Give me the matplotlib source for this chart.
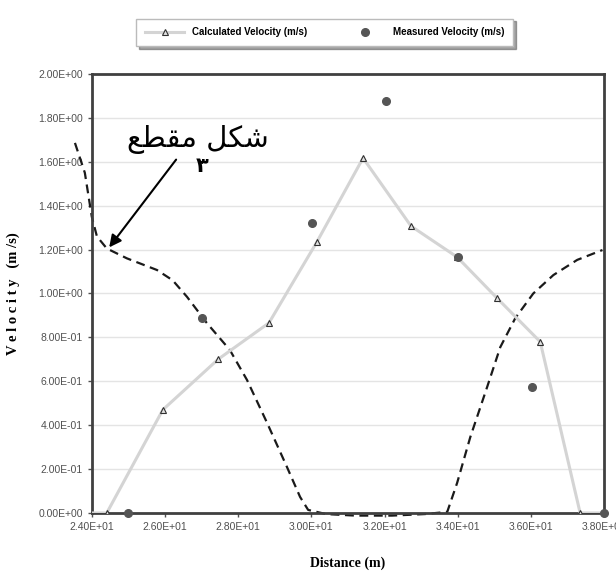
import matplotlib.pyplot as plt
from matplotlib.ticker import FormatStrFormatter, MultipleLocator

# calculated velocity along the section (line with triangles)
calc_distance = [24.0, 24.41, 25.94, 27.45, 28.84, 30.15, 31.41, 32.72, 33.98, 35.07, 36.25, 37.34, 38.0]
calc_velocity = [0.0, 0.0, 0.47, 0.70, 0.866, 1.235, 1.617, 1.307, 1.166, 0.979, 0.78, 0.0, 0.0]

# measured velocity (dots)
meas_distance = [24.98, 27.0, 30.02, 32.04, 34.0, 36.03, 38.0]
meas_velocity = [0.0, 0.89, 1.32, 1.877, 1.166, 0.575, 0.0]

# cross-section outline (dashed)
sect_distance = [23.54, 23.81, 24.0, 24.14, 24.41, 24.96, 25.78, 26.21, 26.6, 27.14,
                 27.77, 28.24, 28.79, 29.33, 29.69, 29.91, 30.4, 31.2, 32.2, 33.1,
                 33.71, 33.98, 34.34, 34.8, 35.16, 35.57, 36.06, 36.61, 37.26, 37.95]
sect_depth = [1.686, 1.55, 1.35, 1.26, 1.205, 1.16, 1.107, 1.06, 0.985, 0.866,
              0.743, 0.606, 0.41, 0.21, 0.073, 0.014, -0.005, -0.012, -0.012, -0.005,
              0.005, 0.137, 0.346, 0.574, 0.756, 0.888, 1.0, 1.084, 1.153, 1.198]

# Arabic label, written in presentation forms so it shows joined right-to-left
section_label = "\uFECA\uFEC4\uFED8\uFEE3 \uFEDE\uFEDC\uFEB7"
section_number = "\u0663"

fig = plt.figure(figsize=(6.16, 5.78), dpi=100)
ax = fig.add_axes([0.149, 0.1125, 0.832, 0.7595])

ax.plot(calc_distance, calc_velocity, color="#d4d4d4", linewidth=2.2,
        marker="^", markersize=5, markerfacecolor="#e0e0e0",
        markeredgecolor="#303030", markeredgewidth=0.8,
        markevery=slice(1, -1), label="Calculated Velocity (m/s)", zorder=3)
ax.plot(meas_distance, meas_velocity, linestyle="none", marker="o",
        markersize=5.5, color="#555555", label="Measured Velocity (m/s)",
        clip_on=False, zorder=4)
ax.plot(sect_distance, sect_depth, color="#1a1a1a", linestyle=(0, (4, 2.5)),
        linewidth=1.6, clip_on=False, zorder=2)

ax.set_xlim(24, 38)
ax.set_ylim(0, 2.0)
ax.xaxis.set_major_locator(MultipleLocator(2))
ax.yaxis.set_major_locator(MultipleLocator(0.2))
ax.xaxis.set_major_formatter(FormatStrFormatter("%.2E"))
ax.yaxis.set_major_formatter(FormatStrFormatter("%.2E"))
ax.tick_params(labelsize=7.5, colors="#505050", length=3, width=1)
for lab in ax.get_xticklabels() + ax.get_yticklabels():
    lab.set_family("Liberation Sans")
ax.grid(axis="y", color="#e4e4e4", linewidth=1)
ax.set_axisbelow(True)
for sp in ax.spines.values():
    sp.set_color("#404040")
    sp.set_linewidth(2)

ax.set_xlabel("Distance (m)", family="Liberation Serif", fontweight="bold",
              fontsize=10, labelpad=18)
ax.set_ylabel("V e l o c i t y   (m /s)", family="Liberation Serif",
              fontweight="bold", fontsize=10.5, labelpad=13)

ax.annotate("", xy=(24.43, 1.2), xytext=(26.35, 1.62),
            arrowprops=dict(arrowstyle="-|>", color="black", lw=1.5,
                            mutation_scale=18))
ax.text(26.9, 1.70, section_label, family="DejaVu Sans", fontsize=21,
        ha="center", va="center")
ax.text(27.0, 1.58, section_number, family="DejaVu Sans", fontsize=15,
        fontweight="bold", ha="center", va="center")

leg = fig.legend(loc="center", bbox_to_anchor=(0.527, 0.944), ncol=2,
                 frameon=True, shadow=True, fancybox=False,
                 handlelength=4, columnspacing=4, borderpad=0.9,
                 prop={"family": "Liberation Sans", "weight": "bold", "size": 7})
leg.get_frame().set_edgecolor("#bbbbbb")

fig.savefig("out.png", dpi=100)
